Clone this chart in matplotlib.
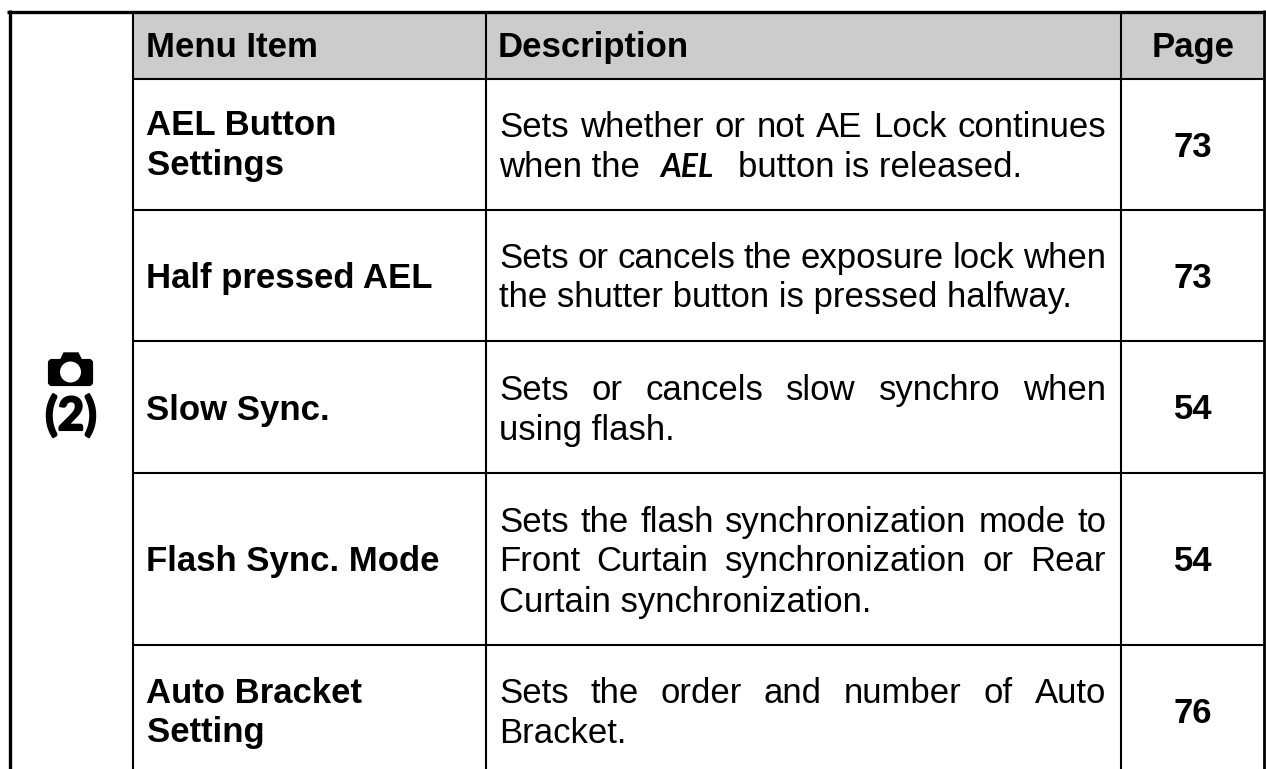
import matplotlib
matplotlib.use("Agg")
import matplotlib.pyplot as plt
from matplotlib.patches import Rectangle, FancyBboxPatch, Circle, Polygon
import matplotlib.patheffects as pe

plt.rcParams['font.family'] = ['Liberation Sans', 'DejaVu Sans']

headers = ["Menu Item", "Description", "Page"]
menu_items = [["AEL Button", "Settings"],
              ["Half pressed AEL"],
              ["Slow Sync."],
              ["Flash Sync. Mode"],
              ["Auto Bracket", "Setting"]]
descriptions = [["Sets whether or not AE Lock continues", "when the"],
                ["Sets or cancels the exposure lock when", "the shutter button is pressed halfway."],
                ["Sets or cancels slow synchro when", "using flash."],
                ["Sets the flash synchronization mode to", "Front Curtain synchronization or Rear", "Curtain synchronization."],
                ["Sets the order and number of Auto", "Bracket."]]
pages = ["73", "73", "54", "54", "76"]

# layout in pixels
W, H = 1266, 769
col_x = [133, 486, 1121]
row_y = [79, 210, 341, 473, 645]
menu_base = [[135, 175], [288], [420], [571], [703, 742]]
desc_base = [[137, 177], [268, 307], [400, 440], [532, 571, 612], [703, 743]]
page_base = [157, 288, 419, 571, 723]
fs = 25

fig = plt.figure(figsize=(W / 100, H / 100), dpi=100)
ax = fig.add_axes([0, 0, 1, 1])
ax.set_xlim(0, W)
ax.set_ylim(H, 0)
ax.axis("off")


def justified(line, x0, x1, y):
    # spread the words of a line over the cell width
    r = fig.canvas.get_renderer()
    words = line.split()
    arts = [ax.text(0, y, w, fontsize=fs, va="baseline") for w in words]
    widths = [a.get_window_extent(r).width for a in arts]
    gap = (x1 - x0 - sum(widths)) / (len(words) - 1)
    x = x0
    for a, w in zip(arts, widths):
        a.set_x(x)
        x += w + gap


# header band
ax.add_patch(Rectangle((col_x[0], 11), W - 3 - col_x[0], row_y[0] - 11, color="#cccccc", lw=0))

# grid lines
ax.plot([7, 1265], [11.5, 11.5], color="k", lw=2.4, solid_capstyle="butt")
ax.plot([9.5, 9.5], [10, H], color="k", lw=2.4, solid_capstyle="butt")
ax.plot([1264, 1264], [10, H], color="k", lw=2, solid_capstyle="butt")
for x in col_x:
    ax.plot([x, x], [11, H], color="k", lw=1.5, solid_capstyle="butt")
for y in row_y:
    ax.plot([col_x[0], 1263], [y, y], color="k", lw=1.5, solid_capstyle="butt")

# header text
ax.text(146.5, 57, headers[0], fontsize=fs, fontweight="bold", va="baseline")
ax.text(498, 57, headers[1], fontsize=fs, fontweight="bold", va="baseline")
ax.text(1193, 57, headers[2], fontsize=fs, fontweight="bold", va="baseline", ha="center")

for i in range(len(menu_items)):
    for line, y in zip(menu_items[i], menu_base[i]):
        ax.text(146.5, y, line, fontsize=fs, fontweight="bold", va="baseline")
    for j, (line, y) in enumerate(zip(descriptions[i], desc_base[i])):
        if j < len(descriptions[i]) - 1:
            justified(line, 499, 1106, y)
        else:
            ax.text(499, y, line, fontsize=fs, va="baseline")
    ax.text(1193, page_base[i], pages[i], fontsize=fs, fontweight="bold", va="baseline", ha="center")

# AEL button glyph in the first description
ax.text(660, 177, "AEL", fontsize=23, fontweight="bold", style="italic", va="baseline",
        family=["Lato", "Liberation Sans"])
ax.text(738, 177, "button is released.", fontsize=fs, va="baseline")

# camera icon
ax.add_patch(FancyBboxPatch((50, 361), 41, 23, boxstyle="round,pad=0,rounding_size=2", fc="k", ec="k", lw=3))
ax.add_patch(Polygon([[60, 361], [64, 353], [78, 353], [82, 361]], closed=True, fc="k", ec="k", lw=1))
ax.add_patch(Circle((70.5, 372), 10.5, fc="w", ec="none"))
ax.text(71, 430, "(2)", fontsize=33, fontweight="bold", ha="center", va="baseline",
        family=["Lato", "Liberation Sans"],
        path_effects=[pe.withStroke(linewidth=1.5, foreground="k")])

fig.savefig("out.png", dpi=100)
